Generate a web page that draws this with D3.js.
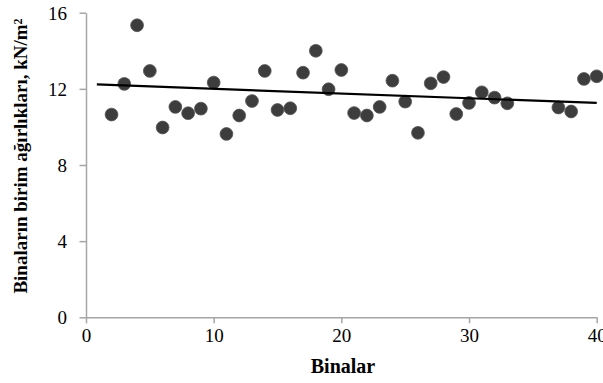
<!DOCTYPE html>
<html>
<head>
<meta charset="utf-8">
<script src="https://cdn.jsdelivr.net/npm/d3@7"></script>
<style>
  html, body { margin: 0; padding: 0; background: #fff; }
  svg { display: block; }
  text { font-family: "Liberation Serif", "Times New Roman", serif; }
</style>
</head>
<body>
<svg id="chart" width="603" height="383"></svg>
<script>
// Data
const buildings = [2,3,4,5,6,7,8,9,10,11,12,13,14,15,16,17,18,19,20,21,22,23,24,25,26,27,28,29,30,31,32,33,37,38,39,40];
const unitWeights = [10.65,12.26,15.34,12.94,9.97,11.05,10.72,10.96,12.33,9.63,10.60,11.36,12.94,10.89,10.98,12.85,14.00,11.98,12.99,10.73,10.60,11.05,12.43,11.33,9.69,12.29,12.62,10.68,11.26,11.82,11.54,11.24,11.02,10.81,12.52,12.66];
const trendX = [0.85, 40];
const trendY = [12.23, 11.26];
const xTicks = [0, 10, 20, 30, 40];
const yTicks = [0, 4, 8, 12, 16];
const xTitle = "Binalar";
const yTitle = "Binaların birim ağırlıkları, kN/m";

const svg = d3.select("#chart");
const x = d3.scaleLinear().domain([0, 40]).range([86, 596.7]);
const y = d3.scaleLinear().domain([0, 16]).range([317.3, 12.7]);
const axisColor = "#a6a6a6";

// Y axis
const gy = svg.append("g").attr("transform", `translate(${x(0)},0)`)
  .call(d3.axisLeft(y).tickValues(yTicks).tickSize(6.5).tickSizeOuter(0).tickPadding(12.5).tickFormat(d3.format("d")));
// X axis
const gx = svg.append("g").attr("transform", `translate(0,${y(0)})`)
  .call(d3.axisBottom(x).tickValues(xTicks).tickSize(6).tickSizeOuter(0).tickPadding(5).tickFormat(d3.format("d")));

[gy, gx].forEach(g => {
  g.select(".domain").attr("stroke", axisColor).attr("stroke-width", 1.5);
  g.selectAll(".tick line").attr("stroke", axisColor).attr("stroke-width", 1.5);
  g.selectAll(".tick text").attr("fill", "#000").style("font-size", "19px")
    .style("font-family", '"Liberation Serif", "Times New Roman", serif');
});
gy.selectAll(".tick text").attr("dy", "0.34em");
gx.selectAll(".tick text").attr("dy", "0.74em");

// Points
svg.append("g").selectAll("circle").data(buildings).join("circle")
  .attr("cx", d => x(d))
  .attr("cy", (d, i) => y(unitWeights[i]))
  .attr("r", 6.4)
  .attr("fill", "#3d3d3d")
  .attr("stroke", "#555")
  .attr("stroke-width", 0.8);

// Trend line
svg.append("line")
  .attr("x1", x(trendX[0])).attr("y1", y(trendY[0]))
  .attr("x2", x(trendX[1])).attr("y2", y(trendY[1]))
  .attr("stroke", "#000").attr("stroke-width", 2.2);

// X title
svg.append("text")
  .attr("x", 343).attr("y", 373)
  .attr("text-anchor", "middle")
  .style("font-size", "20px").style("font-weight", "bold")
  .text(xTitle);

// Y title
const yt = svg.append("text")
  .attr("transform", "translate(27,156) rotate(-90)")
  .attr("text-anchor", "middle")
  .style("font-size", "19px").style("font-weight", "bold");
yt.append("tspan").text(yTitle);
yt.append("tspan").attr("dy", "-0.45em").style("font-size", "12px").text("2");
</script>
</body>
</html>
